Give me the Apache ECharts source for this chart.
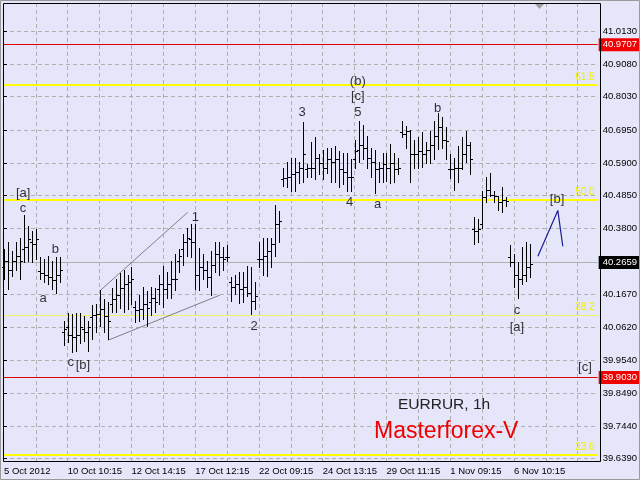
<!DOCTYPE html>
<html><head><meta charset="utf-8">
<script src="https://cdn.jsdelivr.net/npm/echarts@6/dist/echarts.min.js"></script>
<style>html,body{margin:0;padding:0;background:#e6e6fa}#c{width:640px;height:480px}</style>
</head><body><div id="c"></div>
<script>
// ---- data ----
const openP = [
40.254,40.273,40.247,40.273,40.289,40.312,40.321,40.334,40.328,40.241,
40.235,40.228,40.222,40.212,40.228,40.045,40.061,40.038,40.029,40.038,
40.055,40.045,40.093,40.100,40.103,40.119,40.096,40.135,40.151,40.164,
40.186,40.202,40.206,40.125,40.116,40.119,40.135,40.141,40.157,40.183,
40.202,40.183,40.199,40.218,40.273,40.312,40.334,40.344,40.334,40.231,
40.254,40.247,40.222,40.263,40.296,40.286,40.286,40.206,40.190,40.199,
40.183,40.190,40.173,40.145,40.280,40.280,40.289,40.305,40.328,40.392,
40.537,40.540,40.543,40.553,40.562,40.575,40.569,40.575,40.575,40.607,
40.591,40.575,40.601,40.594,40.601,40.569,40.562,40.543,40.601,40.633,
40.649,40.639,40.607,40.594,40.569,40.575,40.585,40.575,40.591,40.569,
40.688,40.684,40.691,40.617,40.617,40.627,40.617,40.633,40.649,40.675,
40.704,40.665,40.569,40.569,40.575,40.575,40.617,40.649,40.376,40.370,
40.392,40.479,40.504,40.488,40.485,40.463,40.472,40.286,40.270,40.228,
40.215,40.231,40.254];
const highP = [
40.312,40.334,40.308,40.334,40.350,40.421,40.386,40.370,40.376,40.286,
40.280,40.289,40.273,40.286,40.286,40.083,40.106,40.103,40.106,40.106,
40.096,40.080,40.132,40.135,40.180,40.151,40.141,40.186,40.215,40.235,
40.244,40.228,40.254,40.145,40.164,40.190,40.177,40.190,40.186,40.231,
40.257,40.238,40.276,40.296,40.312,40.360,40.379,40.392,40.395,40.315,
40.296,40.273,40.308,40.334,40.337,40.321,40.325,40.222,40.231,40.238,
40.238,40.257,40.254,40.206,40.334,40.350,40.347,40.350,40.453,40.434,
40.575,40.594,40.607,40.607,40.594,40.720,40.585,40.656,40.672,40.617,
40.633,40.639,40.639,40.643,40.627,40.623,40.623,40.601,40.662,40.726,
40.713,40.678,40.639,40.633,40.594,40.623,40.623,40.652,40.623,40.607,
40.726,40.710,40.697,40.662,40.672,40.688,40.656,40.694,40.726,40.752,
40.739,40.704,40.617,40.607,40.643,40.672,40.694,40.656,40.415,40.408,
40.501,40.546,40.556,40.498,40.485,40.511,40.479,40.325,40.296,40.270,
40.318,40.337,40.328];
const lowP = [
40.218,40.183,40.225,40.247,40.215,40.270,40.273,40.270,40.280,40.215,
40.206,40.199,40.183,40.173,40.206,40.003,40.013,39.981,39.984,40.010,
40.016,39.984,40.022,40.045,40.064,40.045,40.022,40.109,40.109,40.122,
40.112,40.119,40.135,40.077,40.080,40.087,40.064,40.100,40.109,40.135,
40.128,40.157,40.157,40.180,40.238,40.263,40.292,40.286,40.183,40.180,
40.215,40.190,40.164,40.238,40.231,40.247,40.273,40.145,40.167,40.138,
40.141,40.161,40.103,40.119,40.254,40.231,40.225,40.254,40.289,40.334,
40.517,40.511,40.501,40.501,40.524,40.530,40.546,40.543,40.537,40.553,
40.537,40.556,40.530,40.530,40.514,40.521,40.501,40.498,40.572,40.594,
40.604,40.575,40.543,40.492,40.527,40.530,40.533,40.524,40.527,40.553,
40.672,40.639,40.527,40.572,40.575,40.578,40.591,40.591,40.601,40.636,
40.639,40.601,40.540,40.504,40.530,40.569,40.594,40.553,40.328,40.334,
40.382,40.463,40.482,40.463,40.440,40.431,40.450,40.257,40.190,40.154,
40.199,40.209,40.222];
const closeP = [
40.273,40.247,40.273,40.289,40.273,40.321,40.344,40.328,40.344,40.235,
40.228,40.222,40.212,40.228,40.247,40.055,40.038,40.029,40.038,40.061,
40.045,40.061,40.100,40.103,40.119,40.096,40.080,40.151,40.164,40.186,
40.202,40.206,40.218,40.116,40.119,40.135,40.122,40.157,40.141,40.202,
40.183,40.199,40.218,40.215,40.289,40.334,40.350,40.334,40.231,40.254,
40.247,40.222,40.263,40.296,40.286,40.280,40.286,40.190,40.199,40.183,
40.190,40.173,40.145,40.161,40.280,40.289,40.305,40.328,40.392,40.402,
40.540,40.543,40.553,40.562,40.575,40.617,40.575,40.575,40.607,40.591,
40.575,40.601,40.594,40.601,40.569,40.562,40.543,40.543,40.627,40.649,
40.639,40.607,40.594,40.569,40.575,40.585,40.575,40.591,40.569,40.575,
40.684,40.691,40.617,40.617,40.627,40.617,40.633,40.649,40.675,40.704,
40.665,40.659,40.569,40.575,40.575,40.617,40.649,40.601,40.370,40.376,
40.479,40.504,40.488,40.485,40.463,40.472,40.466,40.270,40.228,40.215,
40.231,40.254,40.266];

const xLabelBars = [0,16,32,48,64,80,96,112,128];
const xLabelTexts = ['5 Oct 2012','10 Oct 10:15','12 Oct 14:15','17 Oct 12:15','22 Oct 09:15','24 Oct 13:15','29 Oct 11:15','1 Nov 09:15','6 Nov 10:15'];
const xGridBars = [8,16,24,32,40,48,56,64,72,80,88,96,104,112,120,128,136,144];
const yTickValues = [39.6390,39.7440,39.8490,39.9540,40.0620,40.1670,40.3800,40.4850,40.5900,40.6950,40.8030,40.9080,41.0130];

const fibLevels = [40.837,40.471,40.100,39.647];
const fibTexts = ['61.8','50.0','38.2','23.6'];
const redLevels = [40.9707,39.9030];
const bidLevel = 40.2659;

const channelUpper = [[24.2,40.180],[46.1,40.431]];
const channelLower = [[26.2,40.020],[54.25,40.165]];
const blueWave = [[134,40.290],[139,40.437],[140.25,40.322]];

const noteText = ['[a]','c','b','a','c','[b]','1','2','3','(b)','[c]','5','4','a','b','[b]','c','[a]','[c]'];
const noteX = [4.8,4.8,12.9,9.8,16.75,19.8,48,62.75,74.8,88.8,88.8,88.8,86.75,93.8,108.8,138.8,128.75,128.75,145.8];
const noteY = [40.492,40.443,40.312,40.154,39.948,39.938,40.415,40.065,40.751,40.853,40.804,40.753,40.462,40.456,40.765,40.474,40.116,40.061,39.931];

// ---- chart ----
const FONT = 'Liberation Sans';
const ohlcData = openP.map((o,i)=>[i,o,closeP[i],lowP[i],highP[i]]);
const chart = echarts.init(document.getElementById('c'), null, {renderer:'canvas'});

const fibWidths = [2,2,1,2];
const markData = [];
fibLevels.forEach((v,i)=>markData.push({yAxis:v, lineStyle:{color: i===2?'#f2f266':'#ffff00', width: fibWidths[i], type:'solid'},
  label:{show:true, position:'insideEndTop', formatter: fibTexts[i], color:'#f0f000', fontSize:10, fontFamily:FONT, distance:3}}));
redLevels.forEach(v=>markData.push({yAxis:v, lineStyle:{color:'#e00000', width:1, type:'solid'},
  label:{show:true, position:'end', formatter: v.toFixed(4), color:'#fff', backgroundColor:'#f00000', padding:[2,3,1,4], distance:1, fontSize:9.5, fontFamily:FONT}}));
markData.push({yAxis:bidLevel, lineStyle:{color:'#b0b0b0', width:1, type:'solid'},
  label:{show:true, position:'end', formatter: bidLevel.toFixed(4), color:'#fff', backgroundColor:'#000', padding:[2,3,1,4], distance:1, fontSize:9.5, fontFamily:FONT}});

chart.setOption({
  animation:false,
  backgroundColor:'#e6e6fa',
  grid:{left:3, right:40, top:3, bottom:19, show:false},
  xAxis:{type:'value', min:-0.25, max:149, position:'bottom',
    axisLine:{show:false},
    axisTick:{show:false, customValues:xGridBars},
    axisLabel:{customValues:xLabelBars, formatter:v=>xLabelTexts[Math.round(v/16)], align:'left', margin:5, color:'#000', fontSize:9.5, fontFamily:FONT},
    splitLine:{show:true, lineStyle:{color:'#b0b0b0', width:1, type:[4,3]}}
  },
  yAxis:{type:'value', position:'right', min:39.6312, max:41.1042, scale:true,
    axisLine:{show:false},
    axisTick:{show:true, customValues:yTickValues, length:3, lineStyle:{color:'#000'}},
    axisLabel:{customValues:yTickValues, formatter:v=>v.toFixed(4), margin:5, color:'#000', fontSize:9.5, fontFamily:FONT},
    splitLine:{show:true, lineStyle:{color:'#b0b0b0', width:1, type:[4,3]}}
  },
  series:[
    {type:'line', name:'levels', data:blueWave, z:3, showSymbol:false, symbol:'none',
      lineStyle:{color:'#1a1a9a', width:1.2}, silent:true,
      markLine:{silent:true, symbol:['none','none'], animation:false, data:markData, z:2}},
    {type:'line', data:channelUpper, showSymbol:false, symbol:'none', lineStyle:{color:'#808080', width:1}, z:3, silent:true},
    {type:'line', data:channelLower, showSymbol:false, symbol:'none', lineStyle:{color:'#808080', width:1}, z:3, silent:true},
    {type:'custom', data:ohlcData, z:4, silent:true, clip:false,
      encode:{x:0, y:[1,2,3,4]},
      renderItem:function(params, api){
        const i = api.value(0);
        const x = Math.round(api.coord([i, 40])[0]);
        const yo = Math.round(api.coord([i, api.value(1)])[1]);
        const yc = Math.round(api.coord([i, api.value(2)])[1]);
        const yl = Math.round(api.coord([i, api.value(3)])[1]);
        const yh = Math.round(api.coord([i, api.value(4)])[1]);
        return {type:'group', children:[
          {type:'rect', shape:{x:x, y:yh, width:1, height:Math.max(1, yl-yh+1)}, style:{fill:'#000'}},
          {type:'rect', shape:{x:x-2, y:yo, width:2, height:1}, style:{fill:'#000'}},
          {type:'rect', shape:{x:x+1, y:yc, width:2, height:1}, style:{fill:'#000'}}
        ]};
      }},
    {type:'scatter', data:noteX.map((x,i)=>[x, noteY[i], noteText[i]]), symbolSize:1, z:5, silent:true,
      itemStyle:{color:'rgba(0,0,0,0)'},
      label:{show:true, position:'inside', formatter:p=>p.data[2], color:'#000', fontSize:13, fontFamily:FONT}}
  ],
  graphic:[
    {type:'rect', z:100, shape:{x:3.5, y:3.5, width:597, height:458}, style:{fill:'none', stroke:'#000', lineWidth:1}},
    {type:'rect', z:100, shape:{x:0.5, y:0.5, width:639, height:479}, style:{fill:'none', stroke:'#9a9a9a', lineWidth:1}},
    {type:'polygon', z:100, shape:{points:[[535,4],[544,4],[539.5,9]]}, style:{fill:'#a0a0a0'}},
    {type:'text', z:100, x:398, y:405, style:{text:'EURRUR, 1h', font:'15.5px "Liberation Sans"', fill:'#222', verticalAlign:'middle', align:'left'}},
    {type:'text', z:100, x:374, y:432, style:{text:'Masterforex-V', font:'23px "Liberation Sans"', fill:'#f00000', verticalAlign:'middle', align:'left'}}
  ]
});
</script></body></html>
